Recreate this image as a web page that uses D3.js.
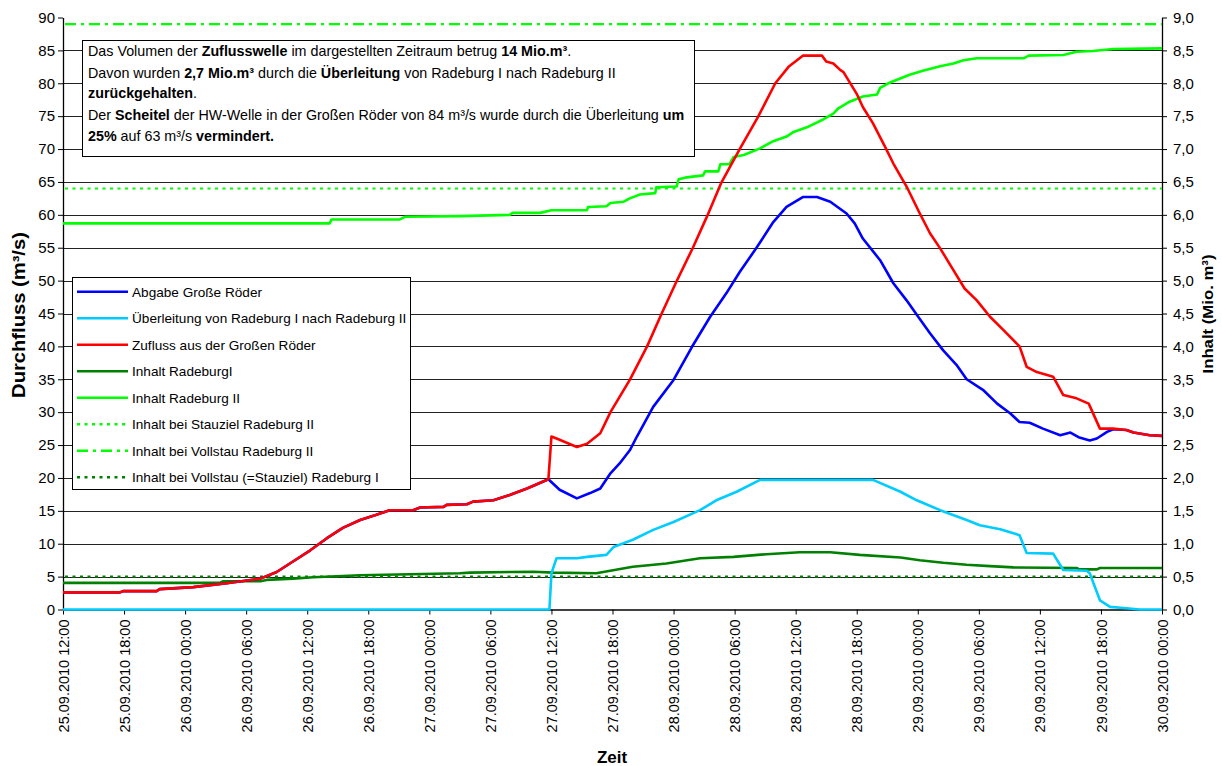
<!DOCTYPE html>
<html>
<head>
<meta charset="utf-8">
<script src="https://cdn.jsdelivr.net/npm/d3@7"></script>
<style>
  html, body { margin: 0; padding: 0; background: #fff; }
  svg { display: block; font-family: "Liberation Sans", Arial, sans-serif; }
</style>
</head>
<body>
<svg id="chart" width="1222" height="766"></svg>
<script>
// ---------- DATA (hours after 25.09.2010 12:00, value) ----------
const startTime = Date.UTC(2010, 8, 25, 12, 0);
const endTime = Date.UTC(2010, 8, 30, 0, 0);

// Durchfluss (m³/s)
const zufluss = [[0,2.6],[5.6,2.6],[5.9,2.8],[9.2,2.8],[9.5,3.1],[12.8,3.4],[16.1,4.0],[19.4,4.7],[21,5.7],[22.6,7.3],[24.3,9.0],[25.9,10.8],[27.5,12.4],[29.2,13.6],[30.8,14.4],[32.1,15.1],[34.4,15.1],[35.1,15.5],[37.4,15.6],[37.7,15.9],[39.7,16.0],[40.3,16.4],[42.3,16.6],[43.9,17.4],[45.6,18.4],[47.7,19.8],[48.0,26.3],[48.5,26.0],[50.5,24.7],[51.5,25.2],[52.8,26.8],[53.8,30],[55.7,34.9],[57.4,40],[58.8,44.9],[60.3,49.9],[61.9,55],[63.3,59.8],[64.7,64.9],[66.5,70],[68.3,74.9],[70,80],[71.3,82.5],[72.7,84.2],[74.6,84.2],[75,83.3],[75.7,83],[76.4,82],[76.7,81.7],[78,78.4],[78.6,76.4],[79.6,73.9],[80.8,70.3],[81.6,67.8],[82.9,64.3],[84.2,60.2],[85.2,57.2],[86.2,54.9],[87.5,51.6],[88.6,48.8],[89.8,47],[91.1,44.5],[92.4,42.5],[94,40],[94.7,36.9],[95.7,36.1],[97.3,35.4],[98.3,32.6],[99.6,32.1],[100.8,31.3],[101.9,27.5],[103.2,27.5],[104.5,27.3],[105.2,26.9],[106.8,26.5],[108,26.4]];

const abgabe = [[0,2.6],[5.6,2.6],[5.9,2.8],[9.2,2.8],[9.5,3.1],[12.8,3.4],[16.1,4.0],[19.4,4.7],[21,5.7],[22.6,7.3],[24.3,9.0],[25.9,10.8],[27.5,12.4],[29.2,13.6],[30.8,14.4],[32.1,15.1],[34.4,15.1],[35.1,15.5],[37.4,15.6],[37.7,15.9],[39.7,16.0],[40.3,16.4],[42.3,16.6],[43.9,17.4],[45.6,18.4],[47.7,19.8],[48.8,18.2],[50.5,16.9],[51.8,17.7],[52.8,18.4],[53.8,20.7],[54.7,22.2],[55.7,24.2],[56.4,26.3],[58.0,30.8],[60.0,34.9],[61.8,39.9],[63.6,44.5],[65.2,48.1],[66.5,51.3],[68.2,55.1],[69.8,58.9],[71.1,61.2],[72.7,62.7],[74.1,62.7],[75.4,62],[77.0,60.2],[77.8,58.7],[78.6,56.4],[80.3,53.1],[81.6,49.6],[82.9,47],[83.9,44.8],[85.2,42],[86.5,39.4],[87.8,37.2],[88.8,35],[90.4,33.4],[91.8,31.3],[93.1,29.8],[94.0,28.5],[95.0,28.4],[96.3,27.5],[98.0,26.5],[99.0,26.9],[99.8,26.2],[100.9,25.7],[101.6,26],[102.6,27],[103.2,27.4],[104.5,27.3],[105.2,26.9],[106.8,26.5],[108,26.4]];

const ueberleitung = [[0,0],[47.8,0],[48.0,5.5],[48.5,7.8],[50.5,7.8],[51.5,8.0],[53.4,8.3],[54.1,9.5],[56.0,10.6],[58.0,12.1],[60.0,13.3],[62.6,15.1],[64.2,16.6],[66.2,17.9],[68.5,19.7],[79.6,19.7],[82.3,17.9],[83.9,16.6],[86.2,15.1],[88.8,13.6],[90.1,12.8],[92.1,12.2],[94.0,11.3],[94.7,8.6],[97.3,8.5],[98.3,6.0],[100.6,5.9],[100.9,5.5],[101.9,1.4],[102.9,0.4],[104.5,0.2],[105.8,0],[108,0]];

// Inhalt (Mio. m³)
const inhaltRadeburgI = [[0,0.405],[15.4,0.405],[15.75,0.43],[19.4,0.43],[20.0,0.45],[22.6,0.47],[24.6,0.49],[29.2,0.52],[39.0,0.55],[40.0,0.56],[46.2,0.575],[48.2,0.56],[52.4,0.55],[56.0,0.65],[59.3,0.70],[62.6,0.78],[65.9,0.80],[69.1,0.84],[72.4,0.87],[75.4,0.87],[78.3,0.83],[82.3,0.79],[84.2,0.75],[86.5,0.71],[88.8,0.68],[91.1,0.66],[93.4,0.64],[99.6,0.63],[99.9,0.61],[101.6,0.61],[101.9,0.63],[108,0.63]];

const inhaltRadeburgII = [[0,5.87],[26.2,5.87],[26.4,5.93],[33.1,5.93],[33.6,5.97],[39.0,5.98],[43.9,6.0],[44.2,6.03],[46.9,6.03],[48.0,6.07],[51.5,6.07],[51.6,6.12],[53.4,6.13],[53.8,6.18],[55.1,6.2],[55.7,6.25],[56.7,6.31],[58.2,6.33],[58.3,6.42],[60.3,6.43],[60.5,6.54],[61.3,6.57],[62.9,6.6],[63.1,6.66],[64.4,6.66],[64.6,6.77],[65.5,6.77],[65.9,6.88],[66.9,6.91],[68.5,7.01],[69.8,7.12],[71.1,7.19],[71.8,7.26],[73.1,7.33],[74.7,7.45],[75.7,7.54],[76.2,7.62],[77.3,7.72],[78.6,7.80],[80.0,7.83],[80.3,7.93],[81.1,8.0],[81.9,8.05],[83.2,8.13],[84.5,8.19],[86.2,8.26],[87.5,8.30],[88.5,8.35],[89.8,8.38],[94.4,8.38],[94.9,8.42],[98.3,8.43],[99.6,8.48],[101.2,8.49],[103.2,8.52],[108,8.53]];

const stauzielRadeburgII = 6.4;
const vollstauRadeburgII = 8.9;
const vollstauRadeburgI = 0.5;

const leftTicks = [0,5,10,15,20,25,30,35,40,45,50,55,60,65,70,75,80,85,90];
const rightTicks = [0,0.5,1,1.5,2,2.5,3,3.5,4,4.5,5,5.5,6,6.5,7,7.5,8,8.5,9];

const legendLabels = ["Abgabe Große Röder","Überleitung von Radeburg I nach Radeburg II","Zufluss aus der Großen Röder","Inhalt RadeburgI","Inhalt Radeburg II","Inhalt bei Stauziel Radeburg II","Inhalt bei Vollstau Radeburg II","Inhalt bei Vollstau (=Stauziel) Radeburg I"];

const infoLines = [
  [["Das Volumen der ",0],["Zuflusswelle",1],[" im dargestellten Zeitraum betrug ",0],["14 Mio.m³",1],[".",0]],
  [["Davon wurden ",0],["2,7 Mio.m³",1],[" durch die ",0],["Überleitung",1],[" von Radeburg I nach Radeburg II",0]],
  [["zurückgehalten",1],[".",0]],
  [["Der ",0],["Scheitel",1],[" der HW-Welle in der Großen Röder von  84 m³/s wurde durch die Überleitung ",0],["um",1]],
  [["25%",1],[" auf  63 m³/s ",0],["vermindert.",1]]
];

// ---------- CHART ----------
const svg = d3.select("#chart");
const L = 63, R = 1162, T = 17.5, B = 609.5;
const toDate = h => new Date(startTime + h * 3600000);
const FONT = "'Liberation Sans', Arial, sans-serif";

const x = d3.scaleUtc().domain([new Date(startTime), new Date(endTime)]).range([L, R]);
const yL = d3.scaleLinear().domain([0, 90]).range([B, T]);
const yR = d3.scaleLinear().domain([0, 9]).range([B, T]);

// gridlines
svg.append("g").selectAll("line")
  .data(leftTicks.filter(t => t > 0 && t < 90))
  .join("line")
  .attr("x1", L).attr("x2", R)
  .attr("y1", d => Math.round(yL(d)) + 0.5).attr("y2", d => Math.round(yL(d)) + 0.5)
  .attr("stroke", "#222").attr("stroke-width", 1);

// axes
const fmt = d3.utcFormat("%d.%m.%Y  %H:%M");
const xAxis = svg.append("g").attr("transform", `translate(0,${B})`)
  .call(d3.axisBottom(x).ticks(d3.utcHour.every(6)).tickFormat(fmt).tickSize(5).tickSizeOuter(0));
xAxis.selectAll("text")
  .attr("transform", "rotate(-90)")
  .attr("text-anchor", "end")
  .attr("x", -10).attr("y", 0).attr("dy", "0.35em")
  .style("font-size", "14.5px").style("font-family", FONT)
  .attr("fill", "#000");

const yAxisL = svg.append("g").attr("transform", `translate(${L},0)`)
  .call(d3.axisLeft(yL).tickValues(leftTicks).tickFormat(d3.format("d")).tickSize(5).tickSizeOuter(0));
yAxisL.selectAll("text").style("font-size", "15px").style("font-family", FONT).attr("x", -8).attr("fill", "#000");

const commaFmt = d => d.toFixed(1).replace(".", ",");
const yAxisR = svg.append("g").attr("transform", `translate(${R},0)`)
  .call(d3.axisRight(yR).tickValues(rightTicks).tickFormat(commaFmt).tickSize(5).tickSizeOuter(0));
yAxisR.selectAll("text").style("font-size", "15px").style("font-family", FONT).attr("x", 11).attr("fill", "#000");

[xAxis, yAxisL, yAxisR].forEach(g => {
  g.selectAll("path.domain").attr("stroke", "#000").attr("stroke-width", 1.3);
  g.selectAll(".tick line").attr("stroke", "#000");
});

// reference lines
const refLines = [
  {v: stauzielRadeburgII, color: "#00ff00", dash: "3,4.5"},
  {v: vollstauRadeburgII, color: "#00ff00", dash: "11,5,3,5"},
  {v: vollstauRadeburgI, color: "#008000", dash: "3,4.5"}
];
svg.append("g").selectAll("line").data(refLines).join("line")
  .attr("x1", L + 2).attr("x2", R)
  .attr("y1", d => yR(d.v)).attr("y2", d => yR(d.v))
  .attr("stroke", d => d.color).attr("stroke-width", 2.2)
  .attr("stroke-dasharray", d => d.dash);

// series
const lineL = d3.line().x(d => x(toDate(d[0]))).y(d => yL(d[1]));
const lineR = d3.line().x(d => x(toDate(d[0]))).y(d => yR(d[1]));
const series = [
  {data: inhaltRadeburgI, gen: lineR, color: "#008000"},
  {data: inhaltRadeburgII, gen: lineR, color: "#00ff00"},
  {data: abgabe, gen: lineL, color: "#0000ff"},
  {data: ueberleitung, gen: lineL, color: "#00ccff"},
  {data: zufluss, gen: lineL, color: "#ff0000"}
];
svg.append("g").selectAll("path").data(series).join("path")
  .attr("d", d => d.gen(d.data))
  .attr("fill", "none").attr("stroke", d => d.color)
  .attr("stroke-width", 2.6).attr("stroke-linejoin", "round");

// info box
const info = svg.append("g");
info.append("rect").attr("x", 82.5).attr("y", 40.5).attr("width", 612).attr("height", 116)
  .attr("fill", "#fff").attr("stroke", "#000").attr("stroke-width", 1);
const infoBase = [56, 77.5, 98, 119.5, 141];
infoLines.forEach((parts, i) => {
  const t = info.append("text").attr("x", 88).attr("y", infoBase[i]).style("font-size", "14.3px").attr("fill", "#000");
  parts.forEach(p => t.append("tspan").text(p[0]).attr("font-weight", p[1] ? "bold" : "normal"));
});

// legend
const lg = svg.append("g");
lg.append("rect").attr("x", 72.5).attr("y", 277.5).attr("width", 338).attr("height", 212)
  .attr("fill", "#fff").attr("stroke", "#000").attr("stroke-width", 1);
const legStyles = [
  {color: "#0000ff", dash: null},
  {color: "#00ccff", dash: null},
  {color: "#ff0000", dash: null},
  {color: "#008000", dash: null},
  {color: "#00ff00", dash: null},
  {color: "#00ff00", dash: "3,4.5"},
  {color: "#00ff00", dash: "11,5,3,5"},
  {color: "#008000", dash: "3,4.5"}
];
legendLabels.forEach((lab, i) => {
  const cy = 291.7 + i * 26.5;
  lg.append("line").attr("x1", 77).attr("x2", 128).attr("y1", cy).attr("y2", cy)
    .attr("stroke", legStyles[i].color).attr("stroke-width", 2.6)
    .attr("stroke-dasharray", legStyles[i].dash);
  lg.append("text").attr("x", 132).attr("y", cy).attr("dy", "0.36em")
    .style("font-size", "13.6px").attr("fill", "#000").text(lab);
});

// axis titles
svg.append("text").attr("transform", "translate(25,315) rotate(-90) scale(1.12,1)")
  .attr("text-anchor", "middle").style("font-size", "18px").style("font-weight", "bold").text("Durchfluss (m³/s)");
svg.append("text").attr("transform", "translate(1213,314) rotate(-90) scale(1.08,1)")
  .attr("text-anchor", "middle").style("font-size", "15.5px").style("font-weight", "bold").text("Inhalt (Mio. m³)");
svg.append("text").attr("x", 612).attr("y", 763)
  .attr("text-anchor", "middle").style("font-size", "17px").style("font-weight", "bold").text("Zeit");
</script>
</body>
</html>
